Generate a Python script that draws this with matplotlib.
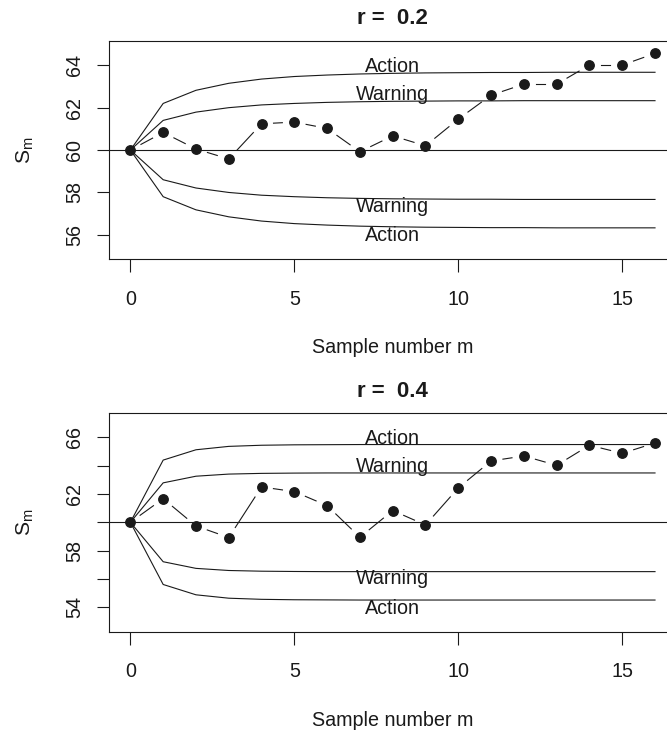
import matplotlib
matplotlib.use("Agg")
import matplotlib.pyplot as plt
import numpy as np

plt.rcParams["font.family"] = ["Liberation Sans", "DejaVu Sans"]
plt.rcParams["mathtext.fontset"] = "custom"
plt.rcParams["mathtext.rm"] = "Liberation Sans"
plt.rcParams["mathtext.it"] = "Liberation Sans"

# sample number
m = list(range(17))

# r = 0.2
s_02 = [60.00, 60.83, 60.05, 59.58, 61.24, 61.32, 61.02, 59.92, 60.67, 60.20, 61.46, 62.59, 63.11, 63.11, 64.01, 64.01, 64.56]
ua_02 = [60.00, 62.20, 62.82, 63.15, 63.35, 63.47, 63.54, 63.59, 63.62, 63.64, 63.65, 63.66, 63.66, 63.67, 63.67, 63.67, 63.67]
uw_02 = [60.00, 61.40, 61.79, 62.00, 62.13, 62.20, 62.25, 62.28, 62.30, 62.31, 62.32, 62.32, 62.33, 62.33, 62.33, 62.33, 62.33]
lw_02 = [60.00, 58.60, 58.21, 58.00, 57.87, 57.80, 57.75, 57.72, 57.70, 57.69, 57.68, 57.68, 57.67, 57.67, 57.67, 57.67, 57.67]
la_02 = [60.00, 57.80, 57.18, 56.85, 56.65, 56.53, 56.46, 56.41, 56.38, 56.36, 56.35, 56.34, 56.34, 56.33, 56.33, 56.33, 56.33]

# r = 0.4
s_04 = [60.00, 61.67, 59.74, 58.92, 62.50, 62.17, 61.18, 58.94, 60.83, 59.81, 62.43, 64.34, 64.69, 64.03, 65.45, 64.88, 65.61]
ua_04 = [60.00, 64.40, 65.13, 65.37, 65.45, 65.48, 65.49, 65.50, 65.50, 65.50, 65.50, 65.50, 65.50, 65.50, 65.50, 65.50, 65.50]
uw_04 = [60.00, 62.79, 63.26, 63.41, 63.46, 63.48, 63.49, 63.49, 63.49, 63.49, 63.49, 63.49, 63.49, 63.49, 63.49, 63.49, 63.49]
lw_04 = [60.00, 57.21, 56.74, 56.59, 56.54, 56.52, 56.51, 56.51, 56.51, 56.51, 56.51, 56.51, 56.51, 56.51, 56.51, 56.51, 56.51]
la_04 = [60.00, 55.60, 54.87, 54.63, 54.55, 54.52, 54.51, 54.50, 54.50, 54.50, 54.50, 54.50, 54.50, 54.50, 54.50, 54.50, 54.50]

target = 60
x_ticks = [0, 5, 10, 15]

W, H = 667, 731
fig = plt.figure(figsize=(W / 100, H / 100), dpi=100)

FS = 14.2
INK = "#1a1a1a"


def type_b(ax, x, y, gap=12):
    # R type="b": points joined by lines that stop short of each point
    ax.plot(x, y, "o", color=INK, markersize=6.8, zorder=4)
    disp = ax.transData.transform(np.column_stack([x, y]))
    inv = ax.transData.inverted()
    for i in range(len(x) - 1):
        p0, p1 = disp[i], disp[i + 1]
        d = p1 - p0
        L = np.hypot(*d)
        if L <= 2 * gap:
            continue
        u = d / L
        a = inv.transform(p0 + u * gap)
        b = inv.transform(p1 - u * gap)
        ax.plot([a[0], b[0]], [a[1], b[1]], color=INK, lw=0.8, zorder=3)


def panel(top_px, bot_px, ylim, yticks, ylabels, s, ua, uw, lw, la, title):
    ax = fig.add_axes([109.4 / W, 1 - bot_px / H, (676 - 109.4) / W, (bot_px - top_px) / H])
    ax.set_xlim(-0.64, 16.64)
    ax.set_ylim(*ylim)
    for sp in ax.spines.values():
        sp.set_linewidth(0.8)
        sp.set_color(INK)
    ax.set_xticks(x_ticks)
    ax.set_xticklabels([str(t) for t in x_ticks])
    ax.set_yticks(yticks)
    ax.set_yticklabels(ylabels)
    ax.tick_params(axis="both", length=9, width=0.8, color=INK, labelsize=FS, labelcolor=INK)
    ax.tick_params(axis="x", pad=13)
    ax.tick_params(axis="y", pad=9)
    for lab in ax.get_yticklabels():
        lab.set_rotation(90)
        lab.set_va("center")

    ax.axhline(target, color=INK, lw=0.8, zorder=2)
    for lim in (ua, uw, lw, la):
        ax.plot(m, lim, color=INK, lw=0.8, zorder=2)

    ax.annotate("Action", (8, ua[-1]), xytext=(0, 0.5), textcoords="offset points",
                ha="center", va="baseline", fontsize=FS, color=INK)
    ax.annotate("Warning", (8, uw[-1]), xytext=(0, 0.5), textcoords="offset points",
                ha="center", va="baseline", fontsize=FS, color=INK)
    ax.annotate("Warning", (8, lw[-1]), xytext=(0, 2), textcoords="offset points",
                ha="center", va="top", fontsize=FS, color=INK)
    ax.annotate("Action", (8, la[-1]), xytext=(0, 1), textcoords="offset points",
                ha="center", va="top", fontsize=FS, color=INK)

    type_b(ax, m, s)

    cx = (109.4 + 676) / 2 / W
    fig.text(cx, 1 - (top_px - 16.7) / H, title, ha="center", va="baseline",
             fontsize=16, fontweight="bold", color=INK)
    fig.text(cx, 1 - (bot_px + 94.5) / H, "Sample number m", ha="center", va="baseline",
             fontsize=FS, color=INK)
    fig.text(25 / W, 1 - (top_px + bot_px) / 2 / H, r"$\mathrm{S_m}$", rotation=90,
             ha="center", va="center", fontsize=FS + 1, color=INK)
    return ax


panel(40.7, 259, (54.86, 65.16), [56, 58, 60, 62, 64], ["56", "58", "60", "62", "64"],
      s_02, ua_02, uw_02, lw_02, la_02, "r =  0.2")
panel(413.3, 631.7, (52.26, 67.71), [54, 56, 58, 60, 62, 64, 66], ["54", "", "58", "", "62", "", "66"],
      s_04, ua_04, uw_04, lw_04, la_04, "r =  0.4")

fig.savefig("out.png", dpi=100)
